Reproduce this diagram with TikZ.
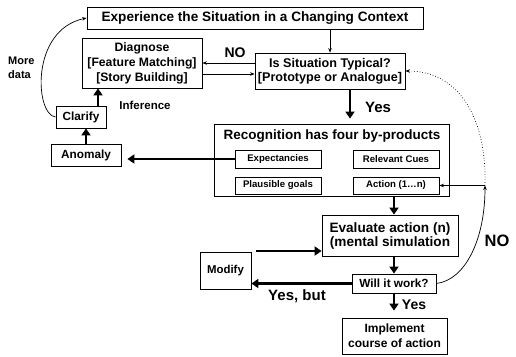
\documentclass[tikz,border=0pt]{standalone}
\usepackage{fontspec}
\setmainfont{Liberation Sans}
\usetikzlibrary{arrows.meta}
\newcommand\fsz[2]{\bfseries\fontsize{#1}{#2}\selectfont}
\tikzset{
  box/.style={draw, line width=0.8pt, inner sep=0pt, align=center, font=\bfseries},
  heavy/.style={line width=2.6pt, -{Triangle[length=7pt,width=9pt]}},
  light/.style={line width=0.7pt, -{Stealth[length=4.5pt,width=3.5pt]}},
  lbl/.style={font=\bfseries, inner sep=0pt}
}
\begin{document}
\begin{tikzpicture}[x=1pt,y=-1pt]
\useasboundingbox[fill=white] (0,0) rectangle (516,356);

% boxes
\node[box, minimum width=336pt, minimum height=22pt, font=\fsz{13.6}{15}] (top) at (255,18) {Experience the Situation in a Changing Context};
\node[box, minimum width=120pt, minimum height=50pt, font=\fsz{12.2}{15}] (diag) at (142,63) {Diagnose\\{}[Feature Matching]\\{}[Story Building]};
\node[box, minimum width=150pt, minimum height=36pt, font=\fsz{12.6}{14}] (typ) at (330,71) {Is Situation Typical?\\{}[Prototype or Analogue]};
\node[box, minimum width=50pt, minimum height=22pt, font=\fsz{11.8}{13}] (clarify) at (81,117) {Clarify};
\node[box, minimum width=70pt, minimum height=22pt, font=\fsz{11.8}{13}] (anomaly) at (86,155) {Anomaly};
\node[box, minimum width=235pt, minimum height=72pt] (recog) at (331.5,160) {};
\node[lbl, font=\fsz{13.5}{15}] (rtitle) at (332,136) {Recognition has four by-products};
\node[box, minimum width=86pt, minimum height=18pt, font=\fsz{9.6}{11}] (expect) at (278,159) {Expectancies};
\node[box, minimum width=86pt, minimum height=18pt, font=\fsz{9.6}{11}] (cues) at (396,159) {Relevant Cues};
\node[box, minimum width=86pt, minimum height=17pt, font=\fsz{9.6}{11}] (goals) at (278,185.5) {Plausible goals};
\node[box, minimum width=86pt, minimum height=17pt, font=\fsz{9.6}{11}] (action) at (396,185.5) {Action (1…n)};
\node[box, minimum width=136pt, minimum height=41pt, font=\fsz{13.6}{14}] (eval) at (390,235.5) {Evaluate action (n)\\(mental simulation};
\node[box, minimum width=84pt, minimum height=19pt, font=\fsz{11.8}{13}] (will) at (394,283.5) {Will it work?};
\node[box, minimum width=105pt, minimum height=36pt, font=\fsz{12}{15}] (impl) at (394.5,336) {Implement\\course of action};
\node[box, minimum width=51pt, minimum height=37pt, font=\fsz{11.4}{13}] (modify) at (225.5,270.5) {Modify};

% labels
\node[lbl, font=\fsz{14}{16}] (nosmall) at (235,53) {NO};
\node[lbl, anchor=west, align=left, font=\fsz{11}{14}] (moredata) at (8,68) {More\\data};
\node[lbl, font=\fsz{11.5}{13}] (inference) at (145,105) {Inference};
\node[lbl, font=\fsz{15}{17}] (yestop) at (378,107) {Yes};
\node[lbl, font=\fsz{15}{17}] (yesbut) at (297,296) {Yes, but};
\node[lbl, font=\fsz{14}{16}] (yesbot) at (414,305) {Yes};
\node[lbl, font=\fsz{16.5}{18}] (nobig) at (497,241) {NO};

% helper points
\coordinate (junction) at (485,185.5);
\coordinate (modout) at (256,251);

% connectors
\draw[light] (typ.north |- top.south) -- (typ.north);
\draw[light] (typ.west |- diag.east) -- (diag.east);
\draw[light] ([yshift=-11pt]diag.east) -- ([yshift=-11pt]diag.east -| typ.west);
\draw[heavy, shorten >=5pt] ([xshift=20pt]typ.south) -- ([xshift=20pt]typ.south |- recog.north);
\draw[heavy] ([xshift=17pt]clarify.north) -- ([xshift=17pt]clarify.north |- diag.south);
\draw[heavy] (anomaly.north) -- (anomaly.north |- clarify.south);
\draw[light] (clarify.west) .. controls (35,115) and (30,30) .. (top.west);
\draw[heavy, shorten >=6pt] (expect.west) -- (expect.west -| anomaly.east);
\draw[heavy] (will.north |- recog.south) -- (will.north |- eval.north);
\draw[heavy] (will.north |- eval.south) -- (will.north);
\draw[heavy, shorten >=7pt] (will.south) -- (will.south |- impl.north);
\draw[heavy] (modout) -- (modout -| eval.west);
\draw[heavy] (will.west) -- (will.west -| modify.east);
\draw[light] (will.east) .. controls (465,280) and (485,240) .. (junction);
\draw[light] (junction) -- (action.east);
\draw[light, dotted] (junction) .. controls (487,120) and (460,71) .. (typ.east);
\end{tikzpicture}
\end{document}
